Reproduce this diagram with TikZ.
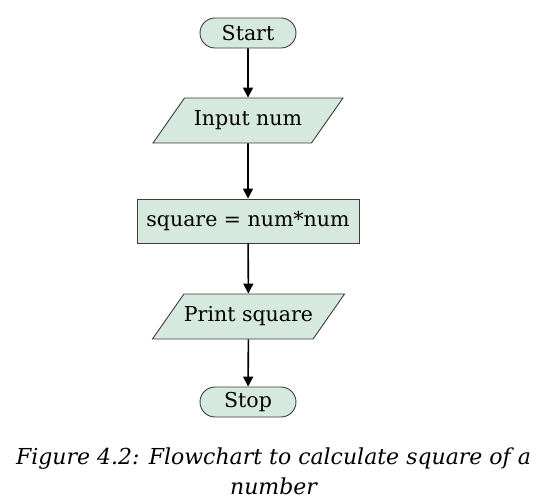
\documentclass[tikz,border=0pt]{standalone}
\usepackage{fontspec}
\setmainfont{DejaVu Serif}
\usepackage{tikz}
\usetikzlibrary{arrows.meta,shapes.geometric,positioning}
\usepackage{xcolor}
\definecolor{boxFill}{RGB}{214,233,222}
\definecolor{boxEdge}{RGB}{60,60,60}

\begin{document}
\begin{tikzpicture}[x=1pt,y=-1pt,
    font=\fontsize{20.5}{24}\selectfont,
    terminal/.style={draw=boxEdge,fill=boxFill,line width=0.9pt,rounded corners=15pt,
      minimum width=96pt,minimum height=30pt,inner sep=0pt},
    io/.style={draw=boxEdge,fill=boxFill,line width=0.9pt,trapezium,trapezium stretches body,
      trapezium left angle=55,trapezium right angle=125,
      text height=15pt,text depth=5pt,inner ysep=12.5pt,inner xsep=0pt,
      minimum width=190pt},
    process/.style={draw=boxEdge,fill=boxFill,line width=0.9pt,
      minimum width=222pt,minimum height=44pt,inner sep=0pt},
    flow/.style={-{Triangle[length=10pt,width=10pt]},line width=1.6pt}]
  \useasboundingbox (0,0) rectangle (547,500);
  % square of a number: start, read, compute, print, stop
  \node[terminal] (start) at (248,33) {Start};
  \node[io] (input) at (248,120.5) {Input num};
  \node[process] (calc) at (248,221) {square = num*num};
  \node[io] (print) at (248.5,316.5) {Print square};
  \node[terminal] (stop) at (248,402) {Stop};
  \draw[flow] (start) -- (input);
  \draw[flow] (input) -- (calc);
  \draw[flow] (calc) -- (print);
  \draw[flow] (print) -- (stop);
  \node[align=center,font=\fontsize{22}{30}\selectfont\itshape] (caption) at (273.5,471)
    {Figure 4.2: Flowchart to calculate square of a\\ number};
\end{tikzpicture}
\end{document}
